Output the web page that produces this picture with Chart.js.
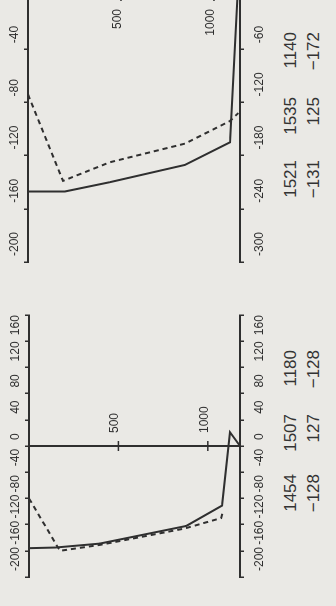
<!DOCTYPE html>
<html>
<head>
<meta charset="utf-8">
<script src="https://cdn.jsdelivr.net/npm/chart.js@4.4.0/dist/chart.umd.min.js"></script>
<style>
  html, body { margin: 0; padding: 0; background: #eae9e5; overflow: hidden; width: 336px; height: 606px; }
  /* the page is drawn landscape and turned a quarter turn, like the scan */
  #page { position: absolute; left: 0; top: 0; width: 606px; height: 336px;
          transform-origin: 0 0; transform: translate(0, 606px) rotate(-90deg); }
  canvas { position: absolute; top: 0; }
  .stat { position: absolute; width: 60px; text-align: right; line-height: 17px;
          font: 17px "Liberation Sans", Arial, sans-serif; color: #333; }
</style>
</head>
<body>
<div id="page">
  <canvas id="left" width="320" height="280" style="left:0"></canvas>
  <canvas id="right" width="320" height="280" style="left:320px"></canvas>
</div>
<script>
// left panel: depth (m) and values of the two profiles
const leftDepth = [0, 148, 396, 880, 1080, 1124, 1180];
const leftSolid = [-156, -155, -149, -122, -91, 21, 0];
const leftDashDepth = [0, 173, 396, 870, 1075, 1084];
const leftDashed = [-80, -160, -151, -126, -110, -100];

// right panel
const rightDepth = [0, 198, 440, 844, 1086, 1127];
const rightSolid = [-147, -147, -140, -127, -110, 0];
const rightDashDepth = [0, 188, 440, 844, 1086, 1131];
const rightDashed = [-74, -139, -125, -111, -94, -88];

// axis ticks and labels
const leftTicks = [-200, -160, -120, -80, -40, 0, 40, 80, 120, 160, 200];
const leftLabels = ['-200', '-160', '-120', '-80', '-40', '0', '40', '80', '120', '160', ''];
const rightTopTicks = [-200, -160, -120, -80, -40, 0];
const rightTopLabels = ['-200', '-160', '-120', '-80', '-40', ''];
const rightBottomTicks = [-300, -240, -180, -120, -60, 0];
const rightBottomLabels = ['-300', '-240', '-180', '-120', '-60', ''];
const depthTicks = [500, 1000];

// numbers printed under each panel
const leftStats = [['1454', '1507', '1180'], ['\u2212128', '127', '\u2212128']];
const rightStats = [['1521', '1535', '1140'], ['\u2212131', '125', '\u2212172']];

const ink = '#2f2f2f';
const tickFont = {family: '"Liberation Sans", Arial, sans-serif', size: 12};

// vertical zero line with the depth ticks on it
const zeroLine = {
    id: 'zeroLine',
    afterDatasetsDraw(chart, args, opts) {
        const {ctx, chartArea, scales: {x, y}} = chart;
        const px = x.getPixelForValue(0);
        ctx.save();
        ctx.strokeStyle = ink;
        ctx.fillStyle = ink;
        ctx.lineWidth = 2;
        ctx.beginPath();
        ctx.moveTo(px, chartArea.top);
        ctx.lineTo(px, chartArea.bottom);
        ctx.stroke();
        ctx.font = '12px "Liberation Sans", Arial, sans-serif';
        ctx.textAlign = opts.side > 0 ? 'left' : 'right';
        ctx.textBaseline = 'alphabetic';
        depthTicks.forEach(d => {
            const py = y.getPixelForValue(d);
            ctx.lineWidth = 1.5;
            ctx.beginPath();
            ctx.moveTo(px - 5, py);
            ctx.lineTo(px + 5, py);
            ctx.stroke();
            ctx.fillText(String(d), px + opts.side * 13, py);
        });
        ctx.restore();
    }
};

function valueAxis(position, min, max, ticks, labels, height, padding) {
    return {
        type: 'linear',
        position: position,
        min: min,
        max: max,
        afterBuildTicks: s => { s.ticks = ticks.map(v => ({value: v})); },
        afterFit: s => { s.height = height; },
        ticks: {
            autoSkip: false,
            maxRotation: 0,
            align: 'start',
            labelOffset: 6,
            padding: padding,
            color: ink,
            font: tickFont,
            callback: v => labels[ticks.indexOf(v)]
        },
        grid: {drawOnChartArea: false, tickLength: 4, color: ink, lineWidth: 1.5},
        border: {color: ink, width: 2}
    };
}

function profile(depth, values, dashed) {
    return {
        data: depth.map((d, i) => ({x: values[i], y: d})),
        showLine: true,
        borderColor: ink,
        borderWidth: 2,
        borderDash: dashed ? [5, 4] : [],
        pointRadius: 0,
        tension: 0,
        xAxisID: 'x',
        yAxisID: 'y'
    };
}

function makePanel(id, cfg) {
    return new Chart(document.getElementById(id), {
        type: 'scatter',
        data: {
            datasets: [
                profile(cfg.depth, cfg.solid, false),
                profile(cfg.dashDepth, cfg.dashed, true)
            ]
        },
        options: {
            responsive: false,
            animation: false,
            devicePixelRatio: 1,
            layout: {autoPadding: false, padding: cfg.padding},
            plugins: {legend: {display: false}, tooltip: {enabled: false}, zeroLine: {side: cfg.side}},
            scales: {
                x: valueAxis('top', cfg.top[0], cfg.top[1], cfg.topTicks, cfg.topLabels, cfg.topHeight, 2),
                x2: valueAxis('bottom', cfg.bottom[0], cfg.bottom[1], cfg.bottomTicks, cfg.bottomLabels, 40, 8),
                y: {type: 'linear', reverse: true, min: 0, max: cfg.maxDepth, display: false}
            }
        },
        plugins: [zeroLine]
    });
}

makePanel('left', {
    depth: leftDepth, solid: leftSolid, dashDepth: leftDashDepth, dashed: leftDashed,
    top: [-200, 200], topTicks: leftTicks, topLabels: leftLabels, topHeight: 29,
    bottom: [-200, 200], bottomTicks: leftTicks, bottomLabels: leftLabels,
    maxDepth: 1180, side: 1,
    padding: {left: 29, right: 29, top: 0, bottom: 0}
});

makePanel('right', {
    depth: rightDepth, solid: rightSolid, dashDepth: rightDashDepth, dashed: rightDashed,
    top: [-200, 0], topTicks: rightTopTicks, topLabels: rightTopLabels, topHeight: 28,
    bottom: [-300, 0], bottomTicks: rightBottomTicks, bottomLabels: rightBottomLabels,
    maxDepth: 1140, side: -1,
    padding: {left: 24, right: 30, top: 0, bottom: 0}
});

// the printed numbers, right aligned in columns
const page = document.getElementById('page');
function addStats(rows, rightEdges) {
    rows.forEach((row, r) => {
        row.forEach((txt, c) => {
            const el = document.createElement('div');
            el.className = 'stat';
            el.textContent = txt;
            el.style.left = (rightEdges[c] - 60) + 'px';
            el.style.top = (281 + r * 23) + 'px';
            page.appendChild(el);
        });
    });
}
addStats(leftStats, [132, 192, 256]);
addStats(rightStats, [446, 509, 574]);
</script>
</body>
</html>
